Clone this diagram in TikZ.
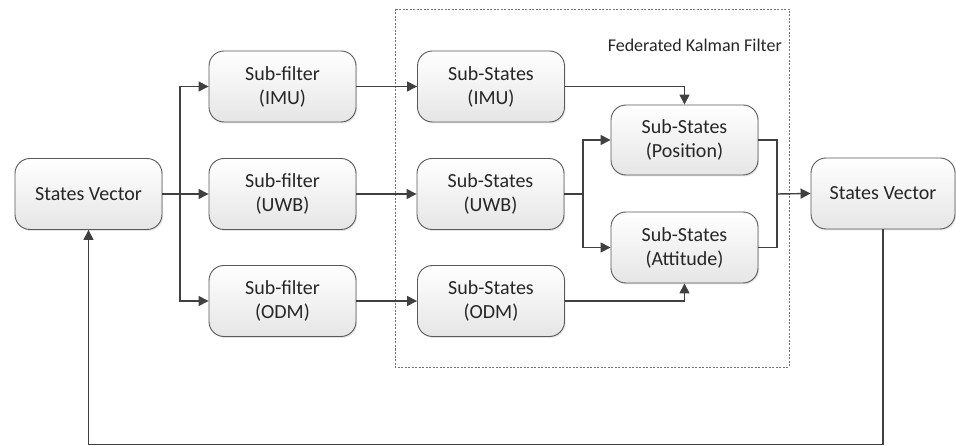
\documentclass[tikz,border=0pt]{standalone}
\usepackage{fontspec}
\setmainfont{Carlito}
\usetikzlibrary{arrows.meta,shadows,calc}
\definecolor{boxline}{HTML}{595959}
\definecolor{conn}{HTML}{404040}
\definecolor{txt}{HTML}{262626}
\begin{document}
\begin{tikzpicture}[x=1pt,y=-1pt,
  blk/.style={draw=boxline, line width=0.9pt, rounded corners=15pt,
    top color=white, bottom color=black!10,
    drop shadow={opacity=0.2, shadow xshift=1.2pt, shadow yshift=-1.5pt},
    minimum width=147pt, minimum height=71pt, inner sep=0pt,
    align=center, text=txt, font=\fontsize{20}{24}\selectfont},
  arr/.style={draw=conn, line width=1.4pt, -{Triangle[length=10pt,width=10pt]}},
  ln/.style={draw=conn, line width=1.4pt}]
\useasboundingbox (0,0) rectangle (956,446);
% dashed frame
\draw[draw=black!55, line width=0.8pt, dash pattern=on 2pt off 1.5pt] (395,9) rectangle (789,367);
\node[anchor=base east, inner sep=0pt, text=txt, font=\fontsize{18}{22}\selectfont] (fkf) at (782,52) {Federated Kalman Filter};
% nodes
\node[blk] (sv1) at (88.5,194) {States Vector};
\node[blk] (sf1) at (282.5,86.5) {Sub-filter\\(IMU)};
\node[blk] (sf2) at (282.5,194) {Sub-filter\\(UWB)};
\node[blk] (sf3) at (282.5,301) {Sub-filter\\(ODM)};
\node[blk] (ss1) at (491,86.5) {Sub-States\\(IMU)};
\node[blk] (ss2) at (490.5,194) {Sub-States\\(UWB)};
\node[blk] (ss3) at (491,301) {Sub-States\\(ODM)};
\node[blk, minimum height=70pt] (pos) at (684.5,140) {Sub-States\\(Position)};
\node[blk] (att) at (684.5,247.5) {Sub-States\\(Attitude)};
\node[blk, minimum width=144pt] (sv2) at (883,193.5) {States Vector};
% junctions
\coordinate (j1) at (180,194);
\coordinate (j2) at (583,194);
\coordinate (j3) at (777,194);
\coordinate (fb) at (0,444.5);
% connectors
\draw[arr] (sv1.east) -- (sf2.west);
\draw[arr] (j1) |- (sf1.west);
\draw[arr] (j1) |- (sf3.west);
\draw[arr] (sf1.east) -- (ss1.west);
\draw[arr] (sf2.east) -- (ss2.west);
\draw[arr] (sf3.east) -- (ss3.west);
\draw[arr] (ss1.east) -| (pos.north);
\draw[arr] (ss3.east) -| (att.south);
\draw[ln] (ss2.east) -- (j2);
\draw[arr] (j2) |- (pos.west);
\draw[arr] (j2) |- (att.west);
\draw[ln] (pos.east) -| (j3);
\draw[ln] (att.east) -| (j3);
\draw[arr] (j3) -- (sv2.west);
\draw[arr] (sv2.south) -- (sv2.south |- fb) -- (sv1.south |- fb) -- (sv1.south);
\end{tikzpicture}
\end{document}
